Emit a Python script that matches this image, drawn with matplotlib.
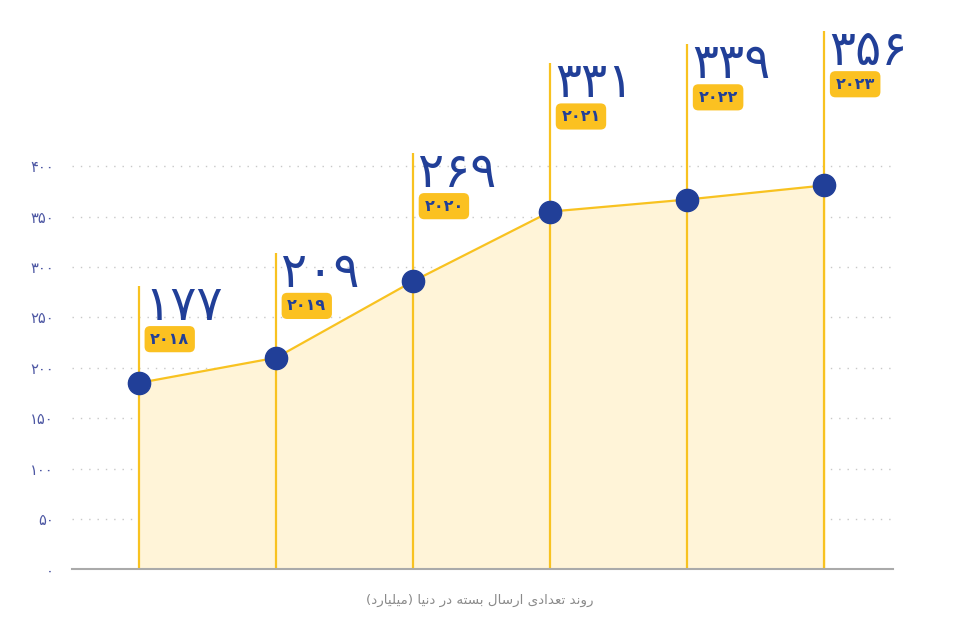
import matplotlib
matplotlib.use('Agg')
import matplotlib.pyplot as plt
from matplotlib.transforms import offset_copy

# data
years = ['۲۰۱۸', '۲۰۱۹', '۲۰۲۰', '۲۰۲۱', '۲۰۲۲', '۲۰۲۳']
values = [185, 210, 286, 355, 367, 381]
labels = ['۱۷۷', '۲۰۹', '۲۶۹', '۳۳۱', '۳۳۹', '۳۵۶']
y_ticks = [0, 50, 100, 150, 200, 250, 300, 350, 400]
caption = 'روند تعدادی ارسال بسته در دنیا (میلیارد)'

# layout: height (in axis units) where each marker line stops
line_tops = [281, 314, 413, 502, 521, 534]

PERSIAN = '۰۱۲۳۴۵۶۷۸۹'


def fa_num(n):
    return ''.join(PERSIAN[int(c)] for c in str(n))


# simple arabic shaping (matplotlib does no shaping / bidi)
FORMS = {
    'ا': (0xFE8D, 0xFE8E, None, None),
    'ب': (0xFE8F, 0xFE90, 0xFE91, 0xFE92),
    'ت': (0xFE95, 0xFE96, 0xFE97, 0xFE98),
    'د': (0xFEA9, 0xFEAA, None, None),
    'ر': (0xFEAD, 0xFEAE, None, None),
    'س': (0xFEB1, 0xFEB2, 0xFEB3, 0xFEB4),
    'ع': (0xFEC9, 0xFECA, 0xFECB, 0xFECC),
    'ل': (0xFEDD, 0xFEDE, 0xFEDF, 0xFEE0),
    'م': (0xFEE1, 0xFEE2, 0xFEE3, 0xFEE4),
    'ن': (0xFEE5, 0xFEE6, 0xFEE7, 0xFEE8),
    'ه': (0xFEE9, 0xFEEA, 0xFEEB, 0xFEEC),
    'و': (0xFEED, 0xFEEE, None, None),
    'ی': (0xFBFC, 0xFBFD, 0xFBFE, 0xFBFF),
}


def shape(text):
    out = []
    for i, ch in enumerate(text):
        if ch not in FORMS:
            out.append(ch)
            continue
        prev = text[i - 1] if i > 0 else ''
        nxt = text[i + 1] if i + 1 < len(text) else ''
        join_prev = prev in FORMS and FORMS[prev][2] is not None
        join_next = nxt in FORMS and FORMS[ch][2] is not None
        f = FORMS[ch]
        if join_prev and join_next:
            code = f[3]
        elif join_prev:
            code = f[1]
        elif join_next:
            code = f[2]
        else:
            code = f[0]
        out.append(chr(code))
    mirror = {'(': ')', ')': '('}
    return ''.join(mirror.get(c, c) for c in reversed(out))


yellow = '#f8c220'
blue = '#213f98'

fig = plt.figure(figsize=(9.75, 6.23), dpi=100)
ax = fig.add_axes([72 / 975, 53.7 / 623, 821 / 975, 569.3 / 623])
x = list(range(len(values)))

ax.set_xlim(-0.49, 5.5)
ax.set_ylim(0, 565)

for t in y_ticks[1:]:
    ax.axhline(t, color='#c8c8c8', lw=1, ls=(0, (1, 5)), zorder=0)

ax.fill_between(x, values, 0, color='#fff4d8', zorder=1)
ax.vlines(x, 0, line_tops, color=yellow, lw=1.6, zorder=2)
ax.plot(x, values, color=yellow, lw=1.6, zorder=3)
ax.plot(x, values, 'o', color=blue, ms=16, zorder=4)

for i in x:
    tr = offset_copy(ax.transData, fig=fig, x=5, y=-34, units='dots')
    ax.text(i, line_tops[i], labels[i], transform=tr, ha='left', va='baseline',
            fontsize=35, color=blue, family='DejaVu Sans')
    tr2 = offset_copy(ax.transData, fig=fig, x=11, y=-53, units='dots')
    ax.text(i, line_tops[i], years[i], transform=tr2, ha='left', va='center',
            fontsize=11.5, fontweight='bold', color=blue, family='DejaVu Sans',
            bbox=dict(boxstyle='round,pad=0.35,rounding_size=0.35', fc='#fbc121', ec='none'))

ax.set_yticks(y_ticks)
ax.set_yticklabels([fa_num(t) for t in y_ticks], color='#4d57a3', fontsize=10.5)
ax.tick_params(axis='y', length=0, pad=13)
ax.set_xticks([])
for s in ['top', 'right', 'left']:
    ax.spines[s].set_visible(False)
ax.spines['bottom'].set_color('#aaaaaa')
ax.spines['bottom'].set_linewidth(1.5)

fig.text(480 / 975, 1 - 600 / 623, shape(caption), ha='center', va='center',
         fontsize=9.7, color='#8a8a8a', family='DejaVu Sans')

fig.savefig('out.png', dpi=100)
